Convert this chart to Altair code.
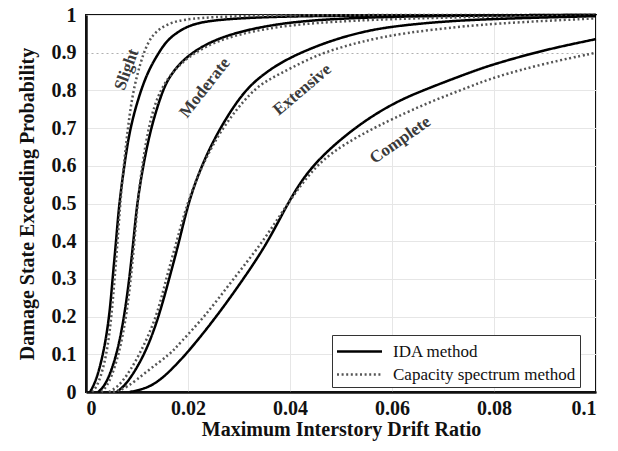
import altair as alt
import pandas as pd

# ---- data ----
slight_ida_x = [0.0008, 0.002, 0.0034, 0.0046, 0.0052, 0.0059, 0.0065, 0.0075, 0.0086, 0.0107, 0.0125, 0.0145, 0.0160, 0.0190, 0.0224, 0.029, 0.040, 0.060, 0.100]
slight_ida_y = [0.0, 0.03, 0.10, 0.20, 0.30, 0.40, 0.50, 0.60, 0.70, 0.80, 0.86, 0.905, 0.935, 0.965, 0.982, 0.991, 0.997, 0.999, 1.0]

slight_csm_x = [0.0012, 0.0025, 0.0041, 0.0050, 0.0056, 0.0062, 0.0067, 0.0074, 0.0082, 0.0092, 0.0112, 0.0130, 0.0160, 0.0200, 0.0300, 0.0500, 0.100]
slight_csm_y = [0.0, 0.02, 0.10, 0.20, 0.30, 0.40, 0.50, 0.60, 0.70, 0.80, 0.90, 0.95, 0.978, 0.991, 0.998, 1.0, 1.0]

moderate_ida_x = [0.0024, 0.0040, 0.0061, 0.0075, 0.0085, 0.0093, 0.0100, 0.0112, 0.0127, 0.0150, 0.0165, 0.0195, 0.0256, 0.0350, 0.0450, 0.060, 0.080, 0.100]
moderate_ida_y = [0.0, 0.02, 0.10, 0.20, 0.30, 0.40, 0.50, 0.60, 0.70, 0.80, 0.84, 0.89, 0.94, 0.972, 0.988, 0.996, 0.999, 1.0]

moderate_csm_x = [0.0030, 0.0045, 0.0065, 0.0079, 0.0088, 0.0095, 0.0101, 0.0110, 0.0122, 0.0142, 0.0184, 0.0250, 0.0350, 0.0450, 0.060, 0.080, 0.100]
moderate_csm_y = [0.0, 0.02, 0.10, 0.20, 0.30, 0.40, 0.50, 0.60, 0.70, 0.80, 0.875, 0.932, 0.965, 0.980, 0.990, 0.996, 0.998]

extensive_ida_x = [0.0060, 0.0080, 0.0116, 0.0143, 0.0163, 0.0183, 0.0200, 0.0226, 0.0262, 0.0310, 0.0350, 0.0380, 0.0420, 0.0480, 0.0540, 0.060, 0.070, 0.080, 0.100]
extensive_ida_y = [0.0, 0.02, 0.10, 0.20, 0.30, 0.40, 0.50, 0.60, 0.70, 0.80, 0.845, 0.872, 0.90, 0.932, 0.955, 0.970, 0.983, 0.990, 0.997]

extensive_csm_x = [0.0045, 0.0070, 0.0106, 0.0139, 0.0157, 0.0178, 0.0198, 0.0227, 0.0266, 0.0325, 0.0360, 0.0400, 0.0450, 0.0500, 0.0580, 0.0680, 0.080, 0.100]
extensive_csm_y = [0.0, 0.02, 0.10, 0.20, 0.30, 0.40, 0.50, 0.60, 0.70, 0.80, 0.83, 0.858, 0.892, 0.915, 0.943, 0.962, 0.978, 0.991]

complete_ida_x = [0.0086, 0.0120, 0.0150, 0.0197, 0.0256, 0.0309, 0.0358, 0.0395, 0.0440, 0.0524, 0.0600, 0.0660, 0.0753, 0.0800, 0.0900, 0.100]
complete_ida_y = [0.0, 0.01, 0.035, 0.10, 0.20, 0.30, 0.40, 0.50, 0.60, 0.70, 0.765, 0.80, 0.848, 0.870, 0.908, 0.936]

complete_csm_x = [0.0053, 0.0080, 0.0119, 0.0165, 0.0184, 0.0233, 0.0289, 0.0348, 0.0395, 0.0449, 0.0500, 0.0550, 0.0600, 0.0675, 0.0753, 0.0800, 0.0900, 0.100]
complete_csm_y = [0.0, 0.01, 0.055, 0.10, 0.13, 0.20, 0.30, 0.40, 0.50, 0.60, 0.652, 0.69, 0.724, 0.77, 0.81, 0.835, 0.872, 0.90]

methods = ["IDA method", "Capacity spectrum method"]

label_text = ["Slight", "Moderate", "Extensive", "Complete"]
label_x = [0.0080, 0.0233, 0.0424, 0.0616]
label_y = [0.855, 0.807, 0.802, 0.668]
label_angle = [290, 308, 320, 325]

x_ticks = [0, 0.02, 0.04, 0.06, 0.08, 0.1]
y_ticks = [0, 0.1, 0.2, 0.3, 0.4, 0.5, 0.6, 0.7, 0.8, 0.9, 1.0]

# ---- build table ----
curves = [
    ("Slight", methods[0], slight_ida_x, slight_ida_y),
    ("Slight", methods[1], slight_csm_x, slight_csm_y),
    ("Moderate", methods[0], moderate_ida_x, moderate_ida_y),
    ("Moderate", methods[1], moderate_csm_x, moderate_csm_y),
    ("Extensive", methods[0], extensive_ida_x, extensive_ida_y),
    ("Extensive", methods[1], extensive_csm_x, extensive_csm_y),
    ("Complete", methods[0], complete_ida_x, complete_ida_y),
    ("Complete", methods[1], complete_csm_x, complete_csm_y),
]
rows = []
for state, method, xs, ys in curves:
    for i, (xv, yv) in enumerate(zip(xs, ys)):
        rows.append({"state": state, "method": method, "curve": state + "|" + method,
                     "idr": xv, "p": yv, "i": i})
df = pd.DataFrame(rows)

labels = pd.DataFrame({"text": label_text, "idr": label_x, "p": label_y, "angle": label_angle})

FONT = "Liberation Serif"

x_enc = alt.X("idr:Q", scale=alt.Scale(domain=[0, 0.1], nice=False),
              axis=alt.Axis(values=x_ticks, format=".2~f", labelOverlap=False,
                            title="Maximum Interstory Drift Ratio"))
y_enc = alt.Y("p:Q", scale=alt.Scale(domain=[0, 1], nice=False),
              axis=alt.Axis(values=y_ticks, format=".1~f", labelOverlap=False, tickCount=11,
                            title="Damage State Exceeding Probability",
                            gridDash={"condition": {"test": "abs(datum.value - 0.9) < 1e-6", "value": [2, 3]}, "value": []},
                            gridColor={"condition": {"test": "abs(datum.value - 0.9) < 1e-6", "value": "#b0b0b0"}, "value": "#e6e6e6"}))

leg = alt.Legend(title=None, orient="none", legendX=246, legendY=320,
                 symbolType="M-2,0H2", symbolSize=506, symbolStrokeWidth=2.5, symbolOffset=11,
                 labelFont=FONT, labelFontSize=17, labelFontWeight="normal",
                 labelColor="#111111", labelOffset=21, labelLimit=400,
                 fillColor="white", strokeColor="#333333",
                 padding=4, rowPadding=2)

lines = alt.Chart(df).mark_line(strokeWidth=2.5, interpolate="basis").encode(
    x=x_enc,
    y=y_enc,
    detail="curve:N",
    order="i:Q",
    color=alt.Color("method:N", scale=alt.Scale(domain=methods, range=["#000000", "#555555"]), legend=leg),
    strokeDash=alt.StrokeDash("method:N",
                              scale=alt.Scale(domain=methods, range=[[1, 0], [2, 2.6]]),
                              legend=leg),
)

text = alt.Chart(labels).mark_text(font=FONT, fontSize=17, fontWeight="bold", color="#3a3a3a").encode(
    x=x_enc, y=y_enc, text="text:N", angle=alt.Angle("angle:Q", scale=None)
)

chart = (lines + text).properties(
    width=510, height=377,
    autosize=alt.AutoSizeParams(type="none"),
    padding={"left": 78, "top": 7, "right": 14, "bottom": 51},
).configure_view(
    stroke="#111111", strokeWidth=2
).configure_axis(
    labelFont=FONT, labelFontSize=20, labelFontWeight="bold", labelColor="#111111",
    titleFont=FONT, titleFontSize=20, titleFontWeight="bold", titleColor="#111111",
    grid=True, gridColor="#e6e6e6", gridWidth=1,
    ticks=False, domainColor="#111111", domainWidth=2.5,
).configure_axisX(
    labelPadding=6, titlePadding=1
).configure_axisY(
    labelPadding=10, titlePadding=14
).configure_legend(
    labelFont=FONT, labelFontSize=17
)

chart.save("out.html", embed_options={"renderer": "svg", "actions": False})
